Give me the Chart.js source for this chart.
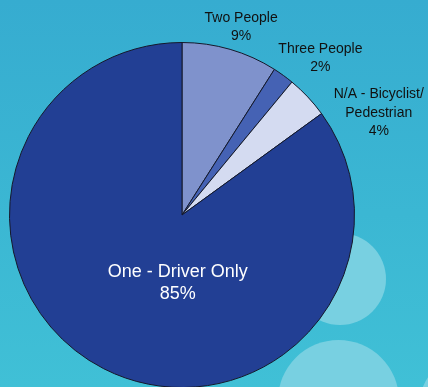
<!DOCTYPE html>
<html lang="en">
<head>
  <meta charset="UTF-8" />
  <title>Commute Mode</title>
  <script src="https://cdn.jsdelivr.net/npm/chart.js"></script>
  <style>
    html, body { margin: 0; padding: 0; overflow: hidden; }
    body {
      width: 428px; height: 387px; position: relative;
      background: linear-gradient(to bottom, #36acd0 0%, #3bb7d3 55%, #40c0d6 100%);
    }
    .bubble { position: absolute; border-radius: 50%; background: #78d0e1; }
    #wrap { position: absolute; left: 0; top: 0; width: 428px; height: 390px; }
  </style>
</head>
<body>

  <!-- soft background bubbles -->
  <div class="bubble" style="left:294px; top:233px; width:92px; height:92px;"></div>
  <div class="bubble" style="left:278px; top:340px; width:121px; height:121px;"></div>
  <div class="bubble" style="left:420px; top:358px; width:90px; height:90px;"></div>

  <div id="wrap"><canvas id="modeChart" width="428" height="390"></canvas></div>

  <script>
    const categories = ["Two People", "Three People", "N/A - Bicyclist/\nPedestrian", "One - Driver Only"];
    const shares = [9, 2, 4, 85];
    const sliceColors = ["#7f92cc", "#4562b4", "#d4dbf1", "#223f94"];

    // label nudges (px) from the slice's outer edge midpoint, or centroid for inside labels
    const labelInside = [false, false, false, true];
    const labelShiftX = [11, 37, 71, 35];
    const labelShiftY = [-22, -17, 16, -9];

    const sliceLabels = {
      id: "sliceLabels",
      afterDatasetsDraw(chart) {
        const ctx = chart.ctx;
        const arcs = chart.getDatasetMeta(0).data;
        ctx.save();
        ctx.textAlign = "center";
        ctx.textBaseline = "middle";
        arcs.forEach((arc, i) => {
          const lines = categories[i].split("\n").concat(shares[i] + "%");
          let x, y;
          if (labelInside[i]) {
            const p = arc.tooltipPosition();
            x = p.x; y = p.y;
            ctx.font = "18px 'Liberation Sans', Arial, sans-serif";
            ctx.fillStyle = "#ffffff";
          } else {
            const mid = (arc.startAngle + arc.endAngle) / 2;
            x = arc.x + Math.cos(mid) * arc.outerRadius;
            y = arc.y + Math.sin(mid) * arc.outerRadius;
            ctx.font = "14px 'Liberation Sans', Arial, sans-serif";
            ctx.fillStyle = "#111111";
          }
          x += labelShiftX[i];
          y += labelShiftY[i];
          const lh = labelInside[i] ? 22 : 18.3;
          const top = y - (lines.length - 1) * lh / 2;
          lines.forEach((t, k) => ctx.fillText(t, x, top + k * lh));
        });
        ctx.restore();
      }
    };

    new Chart(document.getElementById("modeChart"), {
      type: "pie",
      data: {
        labels: categories,
        datasets: [{
          data: shares,
          backgroundColor: sliceColors,
          borderColor: "#15182a",
          borderWidth: 1
        }]
      },
      options: {
        responsive: false,
        animation: false,
        layout: { padding: { left: 9, top: 42, right: 73, bottom: 2 } },
        plugins: {
          legend: { display: false },
          tooltip: { enabled: false }
        }
      },
      plugins: [sliceLabels]
    });
  </script>
</body>
</html>
